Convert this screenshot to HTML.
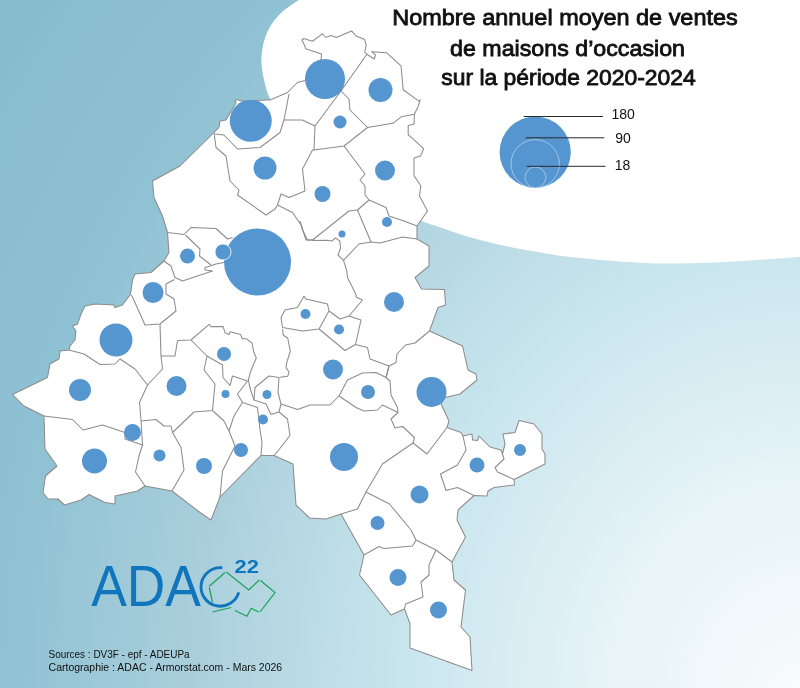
<!DOCTYPE html>
<html lang="fr"><head><meta charset="utf-8"><title>Nombre annuel moyen de ventes de maisons d’occasion</title>
<style>html,body{margin:0;padding:0;background:#fff}body{width:800px;height:688px;overflow:hidden}svg{display:block}</style></head>
<body>
<svg width="800" height="688" viewBox="0 0 800 688">
<defs><radialGradient id="bg" gradientUnits="userSpaceOnUse" cx="0" cy="0" r="1000" gradientTransform="translate(800 700) scale(1 1.15)">
<stop offset="0" stop-color="#f9fcfd"/><stop offset="0.2" stop-color="#e6f3f7"/><stop offset="0.39" stop-color="#cae6ee"/><stop offset="0.56" stop-color="#b2d5e1"/><stop offset="0.62" stop-color="#a8cedb"/><stop offset="0.8" stop-color="#8ec1d3"/><stop offset="1" stop-color="#86bbce"/></radialGradient></defs>
<rect width="800" height="688" fill="url(#bg)"/>
<path d="M345,-24 C340.8,-22.1 327.7,-16.5 320,-12.5 C312.3,-8.5 305.1,-4.1 298.8,0 C292.5,4.1 286.7,7.7 282,12 C277.3,16.3 273.7,20.9 270.8,25.6 C267.9,30.3 265.9,34.9 264.4,40 C262.8,45.1 261.9,51.2 261.5,56 C261.1,60.8 261.4,64.0 262,68.8 C262.6,73.6 263.9,79.9 265.2,84.8 C266.5,89.7 266.7,91.7 270,98.4 C273.3,105.1 278.3,115.6 285,125 C291.7,134.4 300.0,145.0 310,155 C320.0,165.0 333.3,176.7 345,185 C356.7,193.3 367.5,199.1 380,205 C392.5,210.9 410.8,217.0 420,220.4 C429.2,223.8 428.3,223.3 435,225.6 C441.7,227.9 451.7,231.6 460,234.2 C468.3,236.8 476.7,239.2 485,241.3 C493.3,243.4 501.7,245.2 510,246.9 C518.3,248.6 526.7,250.1 535,251.6 C543.3,253.1 551.7,254.6 560,255.75 C568.3,256.9 576.7,257.7 585,258.5 C593.3,259.3 599.2,260.0 610,260.75 C620.8,261.5 639.2,262.8 650,263.25 C660.8,263.7 666.7,263.5 675,263.5 C683.3,263.5 691.7,263.2 700,263 C708.3,262.8 716.7,262.4 725,262 C733.3,261.6 741.7,261.0 750,260.5 C758.3,260.0 766.7,259.4 775,258.75 C783.3,258.1 787.5,257.9 800,256.75 C812.5,255.6 841.7,252.8 850,252 L850,-30 Z" fill="#fff"/>
<path d="M214,132.5 L219,127.5 L220,121 L226,120 L236,103 L235,101 L237,99.5 L241,101 L267.5,100 L270,100 L287.5,92.5 L297.5,82.5 L305,80.5 L321.3,58.7 L321.5,54 L305.6,48.75 L305,46.25 L301.9,40 L303.75,38.5 L312.5,41.25 L320,35.6 L322.5,33.75 L325.6,37.25 L328.75,36.5 L331.25,35.4 L336.25,37.5 L351.6,30.9 L356,36 L364.7,39.6 L366.2,45.4 L364.7,52 L366.9,54.2 L374.2,59 L375.6,54.9 L371.7,51.7 L386.5,52.7 L401,65.8 L403.2,89.8 L419.2,101.4 L420.2,99.7 L418,107 L414.4,114.2 L414,124 L408.2,125.4 L408.2,134.6 L423.7,148.7 L420.5,156 L414,158.1 L414,175.6 L420.8,185.8 L419.5,196 L427.5,211 L417,226 L417,239 L429,246 L429,266 L415,277.5 L421.5,289 L444.5,289.5 L445.5,305 L438,307.5 L429.5,331 L462.5,346 L468,370 L476,374 L477,380 L460,394 L445,397.5 L441,404 L449,421 L447,427.5 L461,432.5 L463,436 L472,434 L472.5,440 L477.5,440.5 L479,436 L490,447 L501,450 L502.5,454 L505,444 L503,434 L515,432.5 L519,420.5 L534,424 L542,434 L542,449 L545,454 L545,464 L514,479.5 L514.5,485 L494,487.5 L488,491 L487,496 L474,495.5 L458,510 L457,520 L465.5,537 L452,562 L454,580 L465.5,590 L461,627 L470,637 L472,670.5 L410,648 L410,623.5 L404.5,609 L391,615 L359.5,575 L364,555 L341,514 L326,519 L309.5,518 L296,505 L293,464 L274,455.5 L261,455.5 L220,497 L211,520 L200,512.5 L172,491 L145,486 L137.5,491 L115,496 L115,504 L105,502.5 L89,494.5 L81,500 L64.5,505 L58,499 L48,499 L43,492.5 L45.5,476 L57,466 L45,449 L44,416 L24,406 L12.5,394.5 L47.5,377.5 L50,364 L59,359 L60,351 L69,350 L70,346 L75,340 L76,331 L72.5,326 L77.5,324 L81,314 L85,306 L95,304 L114,305 L115,307.5 L122.5,305 L130,295 L131,291 L132.5,280 L135,274 L151,272.5 L164,261 L169,252.5 L167.5,232.5 L162.5,216 L154,197.5 L152.5,181 L180,166Z" fill="#fff" stroke="#8c8c8c" stroke-width="1.05" stroke-linejoin="round"/>
<g fill="none" stroke="#8c8c8c" stroke-width="1.05" stroke-linejoin="round">
<path d="M366.9,54.2 L341,91 L315,126 L302.5,120 L284,120"/>
<path d="M341,91 L349,99 L350,110 L367.5,127.5 L392.9,123.3 L401.6,116.7 L414.4,114.2"/>
<path d="M367.5,127.5 L344,146 L314,150 L315,126"/>
<path d="M344,146 L365,174 L360,180 L365,186 L365,195 L369,200"/>
<path d="M314,150 L312.5,150 L302.5,169 L305,191 L289,197.5 L281,194 L277.5,205 L275,209 L266,215 L237.5,195 L239,190 L230,181 L226,156 L216,147.5 L214,132.5"/>
<path d="M215,134 L224,135 L237.5,149 L260,147.5 L280,132.5 L284,120 L289,94"/>
<path d="M369,200 L386,207.5 L389,216 L404,221 L417,226"/>
<path d="M369,200 L357.5,210 L371,242"/>
<path d="M357.5,210 L349,211 L312.5,240 L306,240 L300,221"/>
<path d="M277.5,205 L292.5,212.5 L301,225 L302.5,230 L307.5,240 L315,240"/>
<path d="M312.5,240.5 L327,240.3 L332,241 L335.4,237.8 L339.8,241 L340.6,248 L338,255 L343.5,260.3 L359,244 L371,242 L380,243 L402.5,237 L417,239"/>
<path d="M343.5,260.3 L346.7,270.7 L347.6,277.7 L352,286.4 L355.5,293.4 L356.3,297.2 L362.5,300 L349,316"/>
<path d="M167.5,232.5 L184,234.5 L191,227.5 L216,228.5 L227.5,239 L232.5,237.5"/>
<path d="M185.5,235 L200,249 L199.5,256 L211,265"/>
<path d="M164,261 L171,266 L175,277.5 L182.5,281 L212.5,271 L205,270 L205,267.5 L210,266 L216,264 L224,262.5"/>
<path d="M131,295 L132,296 L145,325 L160,324 L176,311 L174,299 L166,294 L166,284 L174.5,279.5"/>
<path d="M160,324 L161,356 L162.5,369 L147.5,385 L139.5,402.5 L141,420 L142.5,445 L139,456 L135.5,472 L145,486"/>
<path d="M161,356 L175,356 L177.5,340.5 L191,340 L209.2,324.3 L211,326.6 L223.1,326.6 L225,332.7 L229.2,334.4 L230.1,331.8 L240.6,334.4 L242.3,338.8 L246.7,338.8 L252,343.1 L253.7,352 L256.3,358 L253.7,364 L250.2,372.8 L248.4,380 L249.3,385 L251,391 L254,400"/>
<path d="M191,340 L207,356 L222.5,365 L223,377.5 L230,385.5 L232.5,376 L247.5,381 L237.5,394 L242.5,402.5 L257.5,407.5 L260,430 L262,442.5 L261,456"/>
<path d="M207,356 L204,370 L215,384 L212.5,410.5 L194,412 L172.5,432.5 L181,447.5 L184,470 L172,491"/>
<path d="M172.5,432.5 L171,426 L164,426 L156,419.5 L141,421"/>
<path d="M212.5,410.5 L224,421 L229,431 L235,446 L222.5,471 L220,497"/>
<path d="M229,431 L234,416 L242.5,402.5"/>
<path d="M69,350 L84,354 L100,364.5 L115,364 L120,359 L135,369 L147.5,385"/>
<path d="M44,416 L72.5,419.5 L83,430 L102.5,425 L125,432.5 L125,439 L142.5,445"/>
<path d="M274,456 L290,435.5 L287.5,419 L279,412 L271,414.5 L266,404 L254,400 L255,387.5 L269,376 L279,377.5 L278,392.5 L281,404 L279,412"/>
<path d="M281,404 L297.5,409.5 L310,405 L330,405 L339,396 L347.5,380 L362.5,373 L376,372.5 L386,377.5 L389,366"/>
<path d="M339,396 L356,407.5 L364,411 L377.5,410 L382.5,405 L398,412.5"/>
<path d="M304,296 L297.5,307.5 L285,310 L281,317.5 L282.5,327.5 L302.5,331 L319,329 L329,311 L327.5,304 L306,299 L304,296"/>
<path d="M282.4,329.2 L283.3,335.3 L287.7,338 L290.3,351 L286.8,362.3 L286,367.6 L289,372 L287.7,376.3 L279.8,377.2"/>
<path d="M319,329 L345,350.5 L355.5,344.5 L361,320 L349,316 L340,319 L329,311"/>
<path d="M355.5,344.5 L367.5,347.5 L370,359 L389,366 L396,362.5 L397,354 L405.5,345 L415,343 L429.5,331"/>
<path d="M389,366 L386,377.5 L390,381 L391,395 L397.5,407.5 L398,412.5 L391,419 L395,428 L402.5,426.5 L414.5,437.5 L413,443 L427,454 L447,427.5"/>
<path d="M413,443 L382.5,464 L366,492 L357.5,509 L341,514"/>
<path d="M366,492 L389.5,504 L411,530 L416,540 L436,550 L452,562"/>
<path d="M364,555 L379,546.5 L384,548.5 L412.5,546 L416,540"/>
<path d="M436,550 L429,565 L429,575 L421,582 L423,597 L405.5,604 L404.5,609"/>
<path d="M463,436 L466,450 L457.5,465 L440.5,474 L446,490.5 L457.5,487.5 L474,495.5"/>
<path d="M502.5,454 L504,459 L495,467.5 L497.5,472 L514,479.5"/>
</g>
<g fill="#5596d1">
<circle cx="325" cy="79" r="20"/>
<circle cx="380.5" cy="90" r="12"/>
<circle cx="340" cy="122" r="6.5"/>
<circle cx="250.75" cy="120.75" r="21"/>
<circle cx="265" cy="168" r="11.5"/>
<circle cx="322.5" cy="194" r="8"/>
<circle cx="385" cy="170.5" r="10"/>
<circle cx="387" cy="222" r="5"/>
<circle cx="342" cy="234" r="3.5"/>
<circle cx="257.5" cy="262" r="33.5"/>
<circle cx="187.5" cy="256" r="7.5"/>
<circle cx="153" cy="292.5" r="10.5"/>
<circle cx="116" cy="340" r="16.5"/>
<circle cx="80" cy="390" r="11"/>
<circle cx="176.5" cy="386" r="10"/>
<circle cx="132.5" cy="432.5" r="8.5"/>
<circle cx="94.5" cy="461" r="12.5"/>
<circle cx="159.5" cy="455.5" r="6"/>
<circle cx="204" cy="466" r="8"/>
<circle cx="241" cy="450" r="7"/>
<circle cx="224" cy="354" r="7"/>
<circle cx="225.5" cy="394" r="4"/>
<circle cx="267" cy="394.5" r="4.5"/>
<circle cx="263" cy="419.5" r="5"/>
<circle cx="305.5" cy="314" r="5"/>
<circle cx="339" cy="329.5" r="5"/>
<circle cx="394" cy="302" r="10"/>
<circle cx="333" cy="369.5" r="10"/>
<circle cx="368" cy="392" r="7"/>
<circle cx="431.5" cy="392" r="15"/>
<circle cx="344" cy="457" r="14"/>
<circle cx="477" cy="465" r="7.5"/>
<circle cx="520" cy="450" r="6"/>
<circle cx="419.5" cy="494.5" r="9"/>
<circle cx="377.5" cy="523" r="7"/>
<circle cx="398" cy="577.5" r="8.5"/>
<circle cx="438.5" cy="610" r="8.5"/>
<circle cx="223" cy="252" r="8" stroke="#fff" stroke-width="0.8"/>
</g>
<g fill="#5596d1" stroke="#e8f0f8" stroke-width="0.5"><circle cx="535.2" cy="152.2" r="35.6" stroke="none"/><circle cx="535.2" cy="163.8" r="24.2"/><circle cx="535.4" cy="177.4" r="10.4"/></g>
<g stroke="#2a2a2a" stroke-width="1"><path d="M523.7,116.5H603"/><path d="M525.5,137.8H604.3"/><path d="M526.7,166.3H605.5"/></g>
<g font-family="'Liberation Sans',sans-serif" font-size="14" fill="#111"><text x="611.4" y="119.3">180</text><text x="615.3" y="143">90</text><text x="614.8" y="169.5">18</text></g>
<g font-family="'Liberation Sans',sans-serif" font-size="22.8" fill="#111" stroke="#111" stroke-width="0.85" text-anchor="middle"><text x="565" y="24.7" textLength="345.5" lengthAdjust="spacingAndGlyphs">Nombre annuel moyen de ventes</text><text x="567.5" y="55.6" textLength="235" lengthAdjust="spacingAndGlyphs">de maisons d’occasion</text><text x="568.5" y="84.5" textLength="254.5" lengthAdjust="spacingAndGlyphs">sur la période 2020-2024</text></g>
<g font-family="'Liberation Sans',sans-serif" fill="#0f75bc"><text x="91.2" y="606.3" font-size="57" textLength="109.8" lengthAdjust="spacingAndGlyphs">ADA</text><text x="234.6" y="573.2" font-size="18.3" font-weight="bold" textLength="24.4" lengthAdjust="spacingAndGlyphs">22</text></g>
<path d="M222.3,567.7 A19.3,19.3 0 1 0 238.8,592.4" fill="none" stroke="#0f75bc" stroke-width="2.9"/>
<g fill="none" stroke="#1a9f58" stroke-width="1.2"><path d="M209.25,586.25L225,572.5"/><path d="M226.25,572L248.75,590L259.25,580"/><path d="M260.5,580.5L275,592.5L260,612"/><path d="M258.75,612L251.25,608.25L247,616.25L235,610.5"/><path d="M231.25,607.5L212.5,612"/><path d="M209.25,587.5L212.5,602.5"/></g>
<g font-family="'Liberation Sans',sans-serif" font-size="10.2" fill="#111"><text x="48.6" y="658" textLength="141" lengthAdjust="spacingAndGlyphs">Sources : DV3F - epf - ADEUPa</text><text x="48.6" y="670.6" textLength="233.6" lengthAdjust="spacingAndGlyphs">Cartographie : ADAC - Armorstat.com - Mars 2026</text></g>
</svg>
</body></html>
